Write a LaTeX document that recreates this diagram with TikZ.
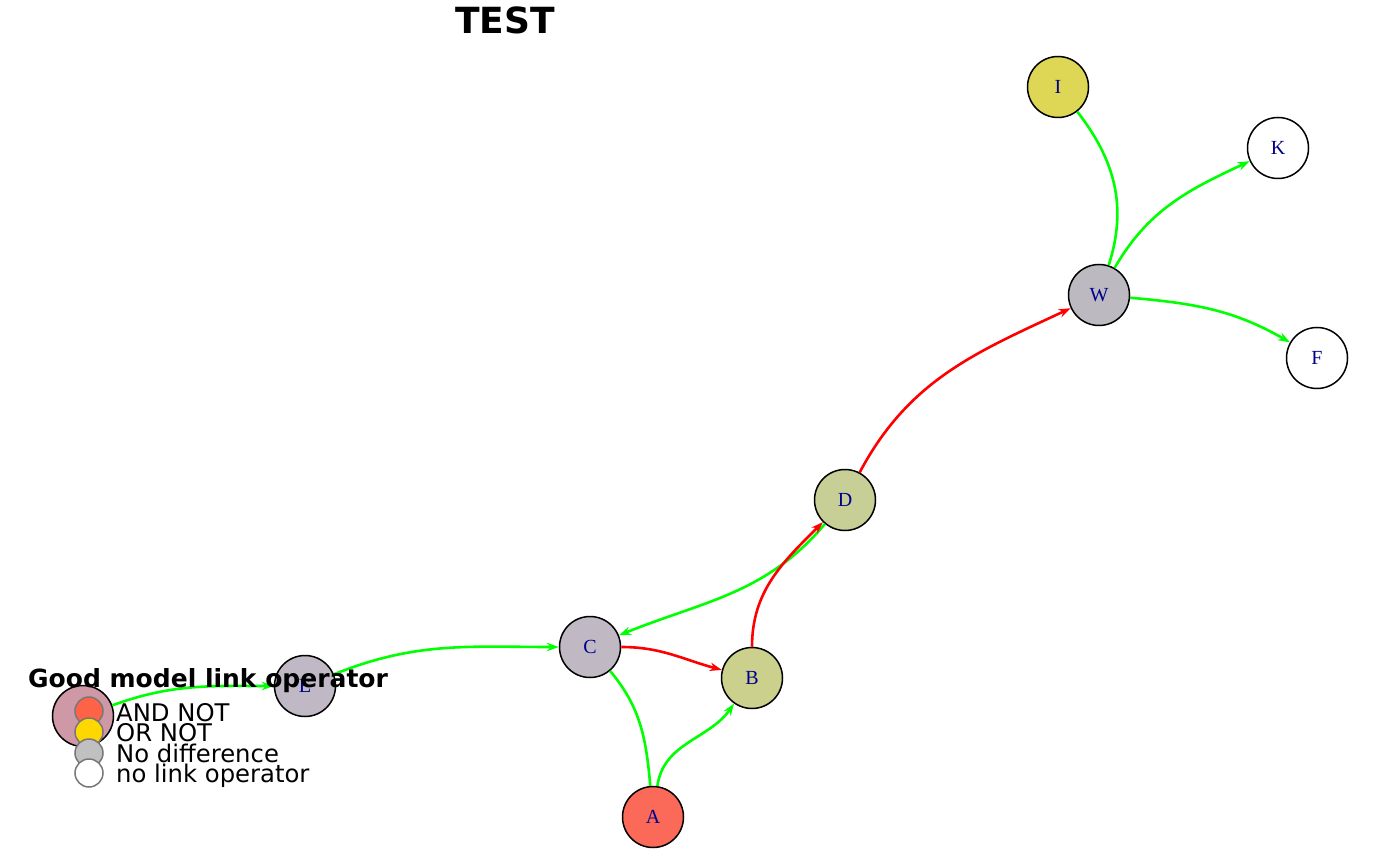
\documentclass[tikz,border=0pt]{standalone}
\usepackage{fontspec}
\setmainfont{DejaVu Sans}
\newfontfamily\lblfont{Liberation Serif}
\usetikzlibrary{arrows.meta}

\definecolor{lnkgreen}{RGB}{0,255,0}
\definecolor{lnkred}{RGB}{255,0,0}
\definecolor{lblblue}{RGB}{0,0,139}
\definecolor{fillA}{RGB}{251,105,88}
\definecolor{fillB}{RGB}{203,208,140}
\definecolor{fillC}{RGB}{192,185,196}
\definecolor{fillD}{RGB}{199,207,150}
\definecolor{fillE}{RGB}{192,184,196}
\definecolor{fillW}{RGB}{188,186,192}
\definecolor{fillI}{RGB}{222,215,85}
\definecolor{fillH}{RGB}{207,152,167}
\definecolor{keyred}{RGB}{255,99,71}
\definecolor{keygold}{RGB}{255,215,0}
\definecolor{keysilver}{RGB}{192,192,192}
\definecolor{keyrim}{RGB}{119,119,119}

\begin{document}
\begin{tikzpicture}[x=1pt,y=-1pt,
  vtx/.style={circle,draw=black,line width=1.5pt,minimum size=61pt,inner sep=0pt,
    font=\lblfont\fontsize{20}{20}\selectfont,text=lblblue},
  act/.style={draw=lnkgreen,line width=2.6pt},
  inh/.style={draw=lnkred,line width=2.6pt},
  tip/.style={-{Stealth[length=12pt,width=8.5pt]}},
  keydot/.style={circle,draw=keyrim,line width=1.5pt,minimum size=28pt,inner sep=0pt},
  keytxt/.style={anchor=base west,inner sep=0pt,font=\fontsize{24.3}{24.3}\selectfont}]
 \useasboundingbox (0,0) rectangle (1400,866);
 \node[font=\fontsize{36}{36}\selectfont\bfseries] (ttl) at (505,20) {TEST};
 % nodes
 \node[vtx,fill=fillI] (I) at (1058,87) {I};
 \node[vtx,fill=white] (K) at (1278,148) {K};
 \node[vtx,fill=fillW] (W) at (1099,295) {W};
 \node[vtx,fill=white] (F) at (1317,358) {F};
 \node[vtx,fill=fillD] (D) at (845,500) {D};
 \node[vtx,fill=fillC] (C) at (590,647) {C};
 \node[vtx,fill=fillB] (B) at (752,678) {B};
 \node[vtx,fill=fillA] (A) at (653,817) {A};
 \node[vtx,fill=fillE] (E) at (305,686) {E};
 \node[vtx,fill=fillH] (H) at (83,716) {};
 % links
 \draw[act,tip] (H) to[out=20,in=180] (E);
 \draw[act,tip] (E) to[out=22,in=180] (C);
 \draw[inh,tip] (C) to[out=0,in=165] (B);
 \draw[act,tip] (D) to[out=230,in=22] (C);
 \draw[inh,tip] (B) to[out=90,in=225] (D);
 \draw[act] (C) to[out=-50,in=95] (A);
 \draw[act,tip] (A) to[out=82,in=235] (B);
 \draw[inh,tip] (D) to[out=62,in=205] (W);
 \draw[act] (I) to[out=-52,in=72] (W);
 \draw[act,tip] (W) to[out=60,in=205] (K);
 \draw[act,tip] (W) to[out=-5,in=150] (F);
 % legend
 \node[anchor=base west,inner sep=0pt,font=\fontsize{25}{25}\selectfont\bfseries] (keyttl) at (28,687) {Good model link operator};
 \node[keydot,fill=keyred] (k1) at (89,711) {};
 \node[keydot,fill=keygold] (k2) at (89,732) {};
 \node[keydot,fill=keysilver] (k3) at (89,753) {};
 \node[keydot,fill=white] (k4) at (89,773) {};
 \node[keytxt] (t1) at (116,721) {AND NOT};
 \node[keytxt] (t2) at (116,741) {OR NOT};
 \node[keytxt] (t3) at (116,762) {No difference};
 \node[keytxt] (t4) at (116,782) {no link operator};
\end{tikzpicture}
\end{document}
